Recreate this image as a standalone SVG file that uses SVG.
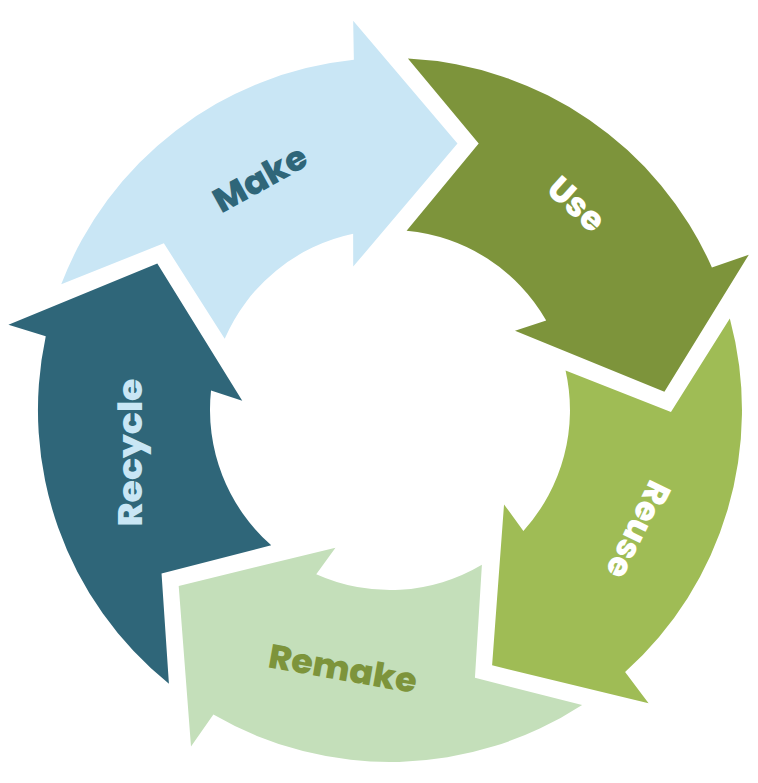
<svg xmlns="http://www.w3.org/2000/svg" width="758" height="783" viewBox="0 0 758 783">
  <style>
    .lbl { font-family: "Poppins", "Inter", "Open Sans", "Liberation Sans", sans-serif; font-weight: 800; font-size: 34px; text-anchor: middle; dominant-baseline: central; }
  </style>
  <defs>
    <path id="arrow" d="M407.9,58.5 A352,352 0 0 1 711.9,267.4 L748.8,254.7 L664.4,391.8 L515,330.7 L546.2,320.5 A180,180 0 0 0 406.6,230.8 L478.7,143.4 Z"/>
  </defs>
  <rect width="758" height="783" fill="#ffffff"/>
  <g id="make">
    <use href="#arrow" transform="rotate(-72 390 410)" fill="#C9E6F5"/>
    <text class="lbl" x="260" y="178.5" fill="#2F6679" transform="rotate(-29 260 178.5)" textLength="102" lengthAdjust="spacingAndGlyphs">Make</text>
  </g>
  <g id="use">
    <use href="#arrow" fill="#7D943B"/>
    <text class="lbl" x="576.5" y="204" fill="#FFFFFF" transform="rotate(42 576.5 204)" textLength="64" lengthAdjust="spacingAndGlyphs">Use</text>
  </g>
  <g id="reuse">
    <use href="#arrow" transform="rotate(72 390 410)" fill="#9FBC55"/>
    <text class="lbl" x="638.5" y="530" fill="#FFFFFF" transform="rotate(116 638.5 530)" textLength="104" lengthAdjust="spacingAndGlyphs">Reuse</text>
  </g>
  <g id="remake">
    <use href="#arrow" transform="rotate(144 390 410)" fill="#C4DFBA"/>
    <text class="lbl" x="343" y="668.5" fill="#7D943B" transform="rotate(10 343 668.5)" textLength="150" lengthAdjust="spacingAndGlyphs">Remake</text>
  </g>
  <g id="recycle">
    <use href="#arrow" transform="rotate(216 390 410)" fill="#2F6679"/>
    <text class="lbl" x="130" y="452.5" fill="#C9E6F5" transform="rotate(-90 130 452.5)" textLength="148" lengthAdjust="spacingAndGlyphs">Recycle</text>
  </g>
  <g id="connectors"/>
</svg>
